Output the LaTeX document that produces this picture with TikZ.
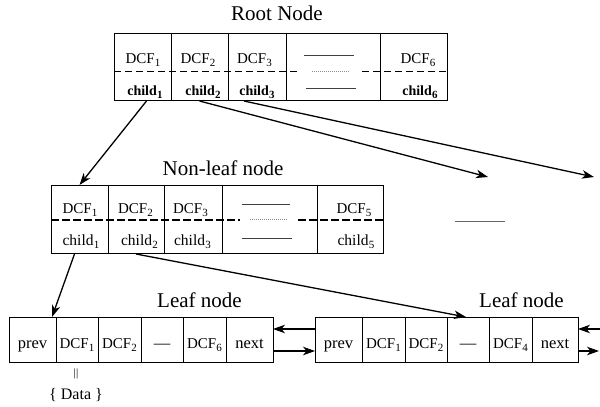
\documentclass[tikz,border=0pt]{standalone}
\usepackage{fontspec}
\setmainfont{Liberation Serif}
\usetikzlibrary{arrows.meta}
\newcommand\sbx[1]{\kern0.3pt\raisebox{-0.22em}{\fontsize{11}{12}\selectfont #1}}
\begin{document}
\begin{tikzpicture}[x=1pt,y=-1pt,
  cell/.style={draw, line width=0.8pt, inner sep=0pt, outer sep=0pt},
  rootcell/.style={cell, minimum height=67pt},
  nlcell/.style={cell, minimum height=68pt},
  leafcell/.style={cell, minimum height=45pt, text height=19pt, text depth=2pt, font=\fontsize{15}{16}\selectfont},
  leafword/.style={leafcell, font=\fontsize{16.5}{18}\selectfont},
  ttl/.style={font=\fontsize{21}{24}\selectfont, anchor=base, inner sep=0pt},
  rtxt/.style={font=\fontsize{15}{16}\selectfont, anchor=base, inner sep=0pt},
  rchild/.style={font=\fontsize{14}{16}\selectfont\bfseries, anchor=base, inner sep=0pt},
  ntxt/.style={font=\fontsize{15}{16}\selectfont, anchor=base, inner sep=0pt},
  nchild/.style={font=\fontsize{15.5}{17}\selectfont, anchor=base, inner sep=0pt},
  rowsep/.style={line width=0.8pt, dash pattern=on 7pt off 4pt},
  nlsep/.style={line width=1.3pt, dash pattern=on 8pt off 3pt},
  gapline/.style={line width=0.7pt, black!75},
  dotline/.style={line width=0.6pt, black!45, dash pattern=on 1pt off 1pt},
  arr/.style={line width=1.3pt, -{Stealth[length=12pt,width=8.5pt,inset=3.5pt]}}
]
\useasboundingbox (0,0) rectangle (600,407);

% ---------- Root node ----------
\node[ttl] (rt) at (277,20) {Root Node};
\node[rootcell, minimum width=57pt] (r1) at (142.5,66.5) {};
\node[rootcell, minimum width=57pt] (r2) at (199.5,66.5) {};
\node[rootcell, minimum width=58pt] (r3) at (257,66.5) {};
\node[rootcell, minimum width=94pt] (r4) at (333,66.5) {};
\node[rootcell, minimum width=67pt] (r5) at (413.5,66.5) {};
\draw[rowsep] (114,71) -- (299,71);
\draw[rowsep] (362,71) -- (447,71);
\draw[gapline] (304,55) -- (354,55);
\draw[dotline] (312,71) -- (350,71);
\draw[gapline] (306,88) -- (356,88);
\node[rtxt] (rd1) at (143,63) {DCF\sbx{1}};
\node[rtxt] (rd2) at (198,63) {DCF\sbx{2}};
\node[rtxt] (rd3) at (254.5,63) {DCF\sbx{3}};
\node[rtxt] (rd6) at (418,63) {DCF\sbx{6}};
\node[rchild] (rc1) at (145,95) {child\sbx{1}};
\node[rchild] (rc2) at (203,95) {child\sbx{2}};
\node[rchild] (rc3) at (257,95) {child\sbx{3}};
\node[rchild] (rc6) at (420,95) {child\sbx{6}};

% ---------- Non-leaf node ----------
\node[ttl] (nt) at (223,175) {Non-leaf node};
\node[nlcell, minimum width=57pt] (n1) at (79.5,219) {};
\node[nlcell, minimum width=56pt] (n2) at (136,219) {};
\node[nlcell, minimum width=58pt] (n3) at (193,219) {};
\node[nlcell, minimum width=95pt] (n4) at (269.5,219) {};
\node[nlcell, minimum width=66pt] (n5) at (350,219) {};
\draw[nlsep] (51,220) -- (240,220);
\draw[nlsep] (298,220) -- (383,220);
\draw[gapline] (242,204) -- (290,204);
\draw[dotline] (250,219) -- (287,219);
\draw[gapline] (242,238) -- (292,238);
\node[ntxt] (nd1) at (80,213.5) {DCF\sbx{1}};
\node[ntxt] (nd2) at (135.5,213.5) {DCF\sbx{2}};
\node[ntxt] (nd3) at (190.5,213.5) {DCF\sbx{3}};
\node[ntxt] (nd5) at (354,213.5) {DCF\sbx{5}};
\node[nchild] (nc1) at (81,245.5) {child\sbx{1}};
\node[nchild] (nc2) at (139.5,245.5) {child\sbx{2}};
\node[nchild] (nc3) at (192.5,245.5) {child\sbx{3}};
\node[nchild] (nc5) at (356,245.5) {child\sbx{5}};

% lone line
\draw[gapline, black!60] (455,221) -- (505,221);

% ---------- Leaf node 1 ----------
\node[ttl] (lt1) at (199.5,307) {Leaf node};
\node[leafword, minimum width=47pt] (a1) at (32.5,339.5) {prev};
\node[leafcell, minimum width=42pt] (a2) at (77,339.5) {DCF\sbx{1}};
\node[leafcell, minimum width=43pt] (a3) at (119.5,339.5) {DCF\sbx{2}};
\node[leafword, minimum width=42pt] (a4) at (162,339.5) {—};
\node[leafcell, minimum width=43pt] (a5) at (204.5,339.5) {DCF\sbx{6}};
\node[leafword, minimum width=47pt] (a6) at (249.5,339.5) {next};
\node[font=\fontsize{11}{11}\selectfont, inner sep=0pt] (bar) at (76,374) {|\kern0.4pt|};
\node[font=\fontsize{16}{18}\selectfont, inner sep=0pt] (data) at (76,395) {\{ Data \}};

% ---------- Leaf node 2 ----------
\node[ttl] (lt2) at (521.5,307) {Leaf node};
\node[leafword, minimum width=47pt] (b1) at (338.5,339.5) {prev};
\node[leafcell, minimum width=43pt] (b2) at (383.5,339.5) {DCF\sbx{1}};
\node[leafcell, minimum width=42pt] (b3) at (426,339.5) {DCF\sbx{2}};
\node[leafword, minimum width=42pt] (b4) at (468,339.5) {—};
\node[leafcell, minimum width=43pt] (b5) at (510.5,339.5) {DCF\sbx{4}};
\node[leafword, minimum width=46pt] (b6) at (555,339.5) {next};

% ---------- free ends ----------
\coordinate (e1) at (488,177);
\coordinate (e2) at (594,177);
\coordinate (rin) at (600,329);
\coordinate (rout) at (599,351);

% ---------- connectors ----------
\draw[arr] ([xshift=4pt,yshift=-1pt]r1.south) -- (n1.north);
\draw[arr] ([yshift=-1pt]r2.south) -- (e1);
\draw[arr] ([xshift=-13pt,yshift=-1pt]r3.south) -- (e2);
\draw[arr] ([xshift=-5pt,yshift=-1pt]n1.south) -- ([xshift=-4pt]a1.north east);
\draw[arr] ([yshift=-1pt]n2.south) -- ([xshift=-2pt]b4.north);
\draw[arr] ([yshift=10.5pt]b1.west) -- ([yshift=10.5pt]a6.east);
\draw[arr] ([yshift=-11.5pt]a6.east) -- ([yshift=-11.5pt]b1.west);
\draw[arr] (rin) -- ([yshift=10.5pt]b6.east);
\draw[arr] ([yshift=-11.5pt]b6.east) -- (rout);
\end{tikzpicture}
\end{document}
